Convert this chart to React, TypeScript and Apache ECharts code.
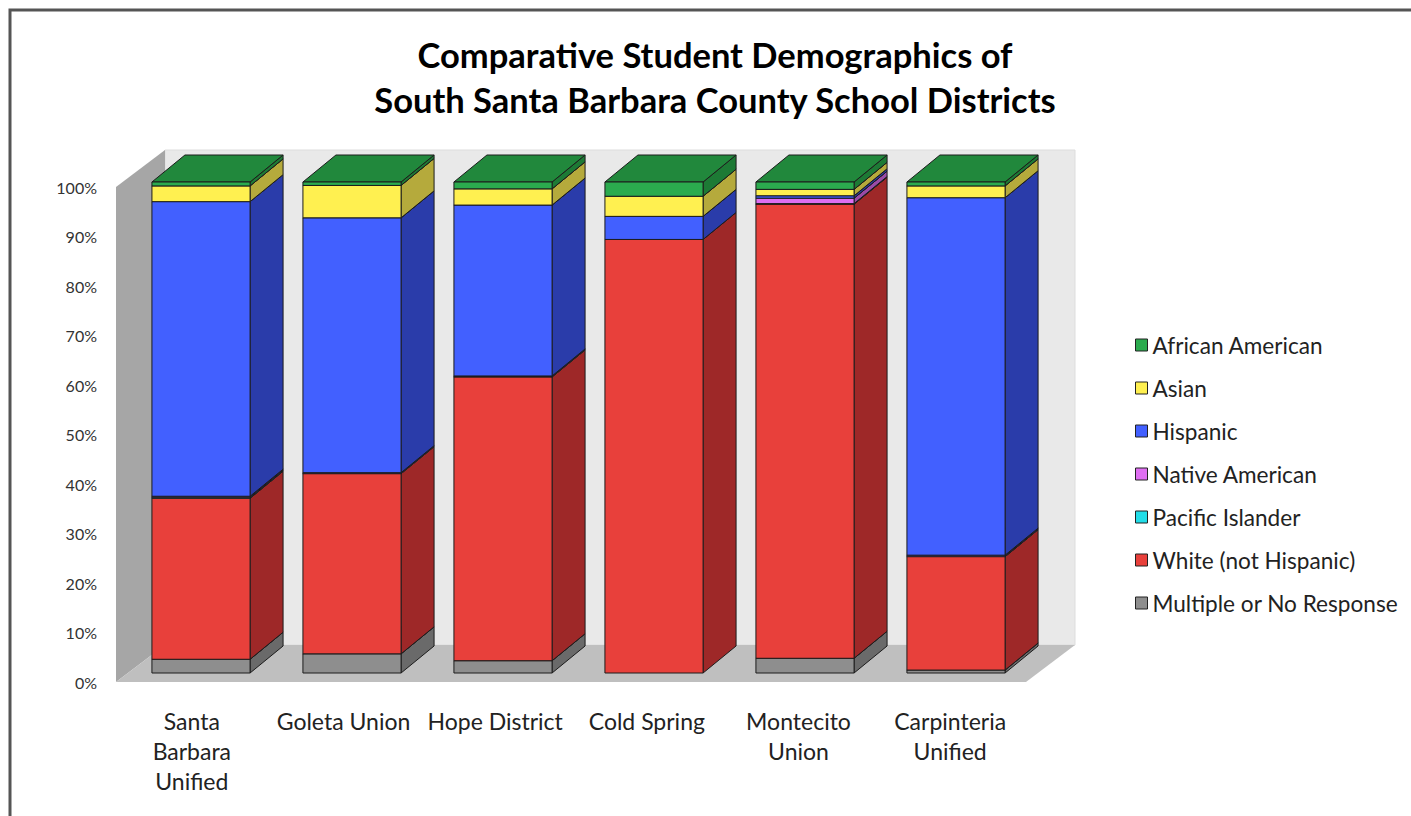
import React, { useEffect, useRef } from "react";
import * as echarts from "echarts";

const categories = [
  "Santa\nBarbara\nUnified",
  "Goleta Union",
  "Hope District",
  "Cold Spring",
  "Montecito\nUnion",
  "Carpinteria\nUnified",
];

const yTickLabels = ["0%", "10%", "20%", "30%", "40%", "50%", "60%", "70%", "80%", "90%", "100%"];

// Values (percent)
const africanAmerican = [0.8, 0.7, 1.4, 2.9, 1.5, 0.8];
const asian = [3.2, 6.6, 3.3, 4.1, 1.3, 2.4];
const hispanic = [60.0, 51.9, 34.8, 4.7, 0.5, 72.8];
const nativeAmerican = [0.2, 0.1, 0.1, 0, 1.1, 0.2];
const pacificIslander = [0.2, 0.1, 0.1, 0, 0.1, 0.1];
const whiteNotHispanic = [32.8, 36.7, 57.8, 88.3, 92.5, 23.1];
const multipleOrNoResponse = [2.8, 3.9, 2.5, 0, 3.0, 0.6];

// stacking order bottom -> top
const stackSeries = [
  { name: "Multiple or No Response", values: multipleOrNoResponse, front: "#8e8e8e", top: "#7a7a7a", side: "#6a6a6a" },
  { name: "White (not Hispanic)", values: whiteNotHispanic, front: "#e8403b", top: "#c0332f", side: "#9e2828" },
  { name: "Pacific Islander", values: pacificIslander, front: "#22dde8", top: "#1cb8c2", side: "#16939b" },
  { name: "Native American", values: nativeAmerican, front: "#df6ef2", top: "#b95bc9", side: "#9a4aa6" },
  { name: "Hispanic", values: hispanic, front: "#4260ff", top: "#3550d6", side: "#2a3caa" },
  { name: "Asian", values: asian, front: "#fff050", top: "#d9cc44", side: "#b5aa3c" },
  { name: "African American", values: africanAmerican, front: "#2bab4e", top: "#21883c", side: "#1d7a35" },
];

const legendOrder = [
  "African American",
  "Asian",
  "Hispanic",
  "Native American",
  "Pacific Islander",
  "White (not Hispanic)",
  "Multiple or No Response",
];

const TITLE = "Comparative Student Demographics of\nSouth Santa Barbara County School Districts";
const FONT = "Lato, 'Noto Sans', sans-serif";
const BAR_RATIO = 0.65;
const DEPTH_X = 33;
const DEPTH_Y = -27;
const WALL_DX = 49;
const WALL_DY = -37;

export default function App() {
  const ref = useRef<HTMLDivElement>(null);

  useEffect(() => {
    document.body.style.margin = "0";
    if (!ref.current) return;
    const chart = echarts.init(ref.current, undefined, { renderer: "svg" });

    const bases: number[] = categories.map(() => 0);
    const barSeries = stackSeries.map((s) => {
      const data = s.values.map((v, i) => {
        const b = bases[i];
        bases[i] = b + v;
        return [i, b, b + v];
      });
      return {
        type: "custom",
        name: s.name,
        xAxisIndex: 0,
        yAxisIndex: 0,
        itemStyle: { color: s.front },
        encode: { x: 0, y: [1, 2] },
        clip: false,
        data,
        renderItem: (params: any, api: any) => {
          const ci = api.value(0);
          const b = api.value(1);
          const t = api.value(2);
          if (t - b <= 0) return null;
          const pb = api.coord([ci, b]);
          const pt = api.coord([ci, t]);
          const bw = api.size([1, 0])[0] * BAR_RATIO;
          const x0 = pb[0] - bw / 2;
          const x1 = pb[0] + bw / 2;
          const yb = pb[1];
          const yt = pt[1];
          const stroke = { stroke: "#1c1c1c", lineWidth: 1 };
          return {
            type: "group",
            children: [
              {
                type: "polygon",
                shape: { points: [[x1, yb], [x1 + DEPTH_X, yb + DEPTH_Y], [x1 + DEPTH_X, yt + DEPTH_Y], [x1, yt]] },
                style: { fill: s.side, ...stroke },
              },
              {
                type: "polygon",
                shape: { points: [[x0, yt], [x1, yt], [x1 + DEPTH_X, yt + DEPTH_Y], [x0 + DEPTH_X, yt + DEPTH_Y]] },
                style: { fill: s.top, ...stroke },
              },
              {
                type: "rect",
                shape: { x: x0, y: yt, width: bw, height: yb - yt },
                style: { fill: s.front, ...stroke },
              },
            ],
          };
        },
      };
    });

    const wallSeries = {
      type: "custom",
      name: "walls",
      xAxisIndex: 1,
      yAxisIndex: 1,
      silent: true,
      clip: false,
      data: [[0, 0]],
      renderItem: (params: any) => {
        const cs = params.coordSys;
        const x = cs.x, y = cs.y, w = cs.width, h = cs.height;
        return {
          type: "group",
          children: [
            {
              type: "rect",
              shape: { x: x + WALL_DX, y: y + WALL_DY, width: w, height: h },
              style: { fill: "#e9e9e9", stroke: "#dddddd", lineWidth: 1 },
            },
            {
              type: "polygon",
              shape: { points: [[x, y], [x + WALL_DX, y + WALL_DY], [x + WALL_DX, y + h + WALL_DY], [x, y + h]] },
              style: { fill: "#a6a6a6" },
            },
            {
              type: "polygon",
              shape: {
                points: [[x, y + h], [x + WALL_DX, y + h + WALL_DY], [x + w + WALL_DX, y + h + WALL_DY], [x + w, y + h]],
              },
              style: { fill: "#bfbfbf" },
            },
          ],
        };
      },
    };

    chart.setOption({
      animation: false,
      legend: {
        orient: "vertical",
        left: 1130,
        top: 328,
        itemWidth: 12,
        itemHeight: 12,
        itemGap: 19,
        itemTextGap: 5,
        icon: "rect",
        data: legendOrder,
        itemStyle: { borderColor: "#222", borderWidth: 1 },
        textStyle: { fontFamily: FONT, fontSize: 22.6, lineHeight: 24, color: "#222" },
      },
      graphic: [
        {
          type: "rect",
          shape: { x: 10, y: 10, width: 1430, height: 840 },
          style: { fill: "none", stroke: "#555", lineWidth: 3 },
          silent: true,
        },
        {
          type: "text",
          x: 715,
          y: 32,
          style: {
            text: TITLE,
            textAlign: "center",
            textVerticalAlign: "top",
            fontFamily: FONT,
            fontWeight: "bold",
            fontSize: 34.5,
            lineHeight: 45,
            fill: "#000",
          },
          silent: true,
        },
      ],
      grid: [
        { left: 125.5, top: 182, width: 906, height: 491 },
        { left: 116, top: 187, width: 910, height: 495 },
      ],
      xAxis: [
        { type: "category", gridIndex: 0, data: categories, show: false },
        {
          type: "category",
          gridIndex: 1,
          data: categories,
          axisLine: { show: false },
          axisTick: { show: false },
          axisLabel: {
            interval: 0,
            margin: 24,
            fontFamily: FONT,
            fontSize: 23,
            lineHeight: 30,
            color: "#222",
          },
        },
      ],
      yAxis: [
        { type: "value", gridIndex: 0, min: 0, max: 100, show: false },
        {
          type: "value",
          gridIndex: 1,
          min: 0,
          max: 100,
          interval: 10,
          axisLine: { show: false },
          axisTick: { show: false },
          splitLine: { show: false },
          axisLabel: {
            margin: 19,
            fontFamily: FONT,
            fontSize: 16,
            color: "#333",
            formatter: (v: number) => yTickLabels[Math.round(v / 10)],
          },
        },
      ],
      series: [wallSeries, ...barSeries],
    });

    return () => chart.dispose();
  }, []);

  return <div ref={ref} style={{ width: 1411, height: 816 }} />;
}
